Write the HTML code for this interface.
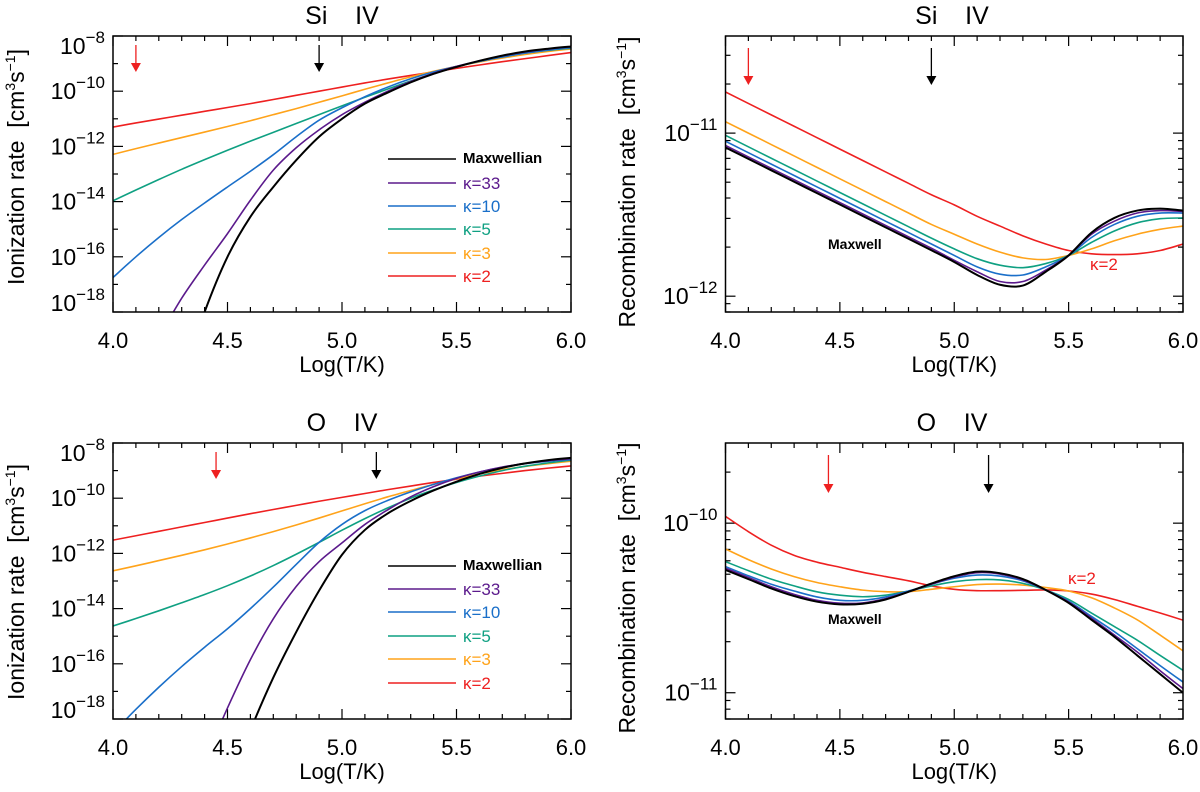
<!DOCTYPE html>
<html><head><meta charset="utf-8"><style>
html,body{margin:0;padding:0;background:#fff;overflow:hidden;width:1200px;height:792px;}
svg{display:block;font-family:"Liberation Sans",sans-serif;}
text{white-space:pre;}
</style></head><body>
<svg id="fig" width="1200" height="792" viewBox="0 0 1200 792"></svg>
<script>
const temps=[4.0,4.1,4.2,4.3,4.4,4.5,4.6,4.7,4.8,4.9,5.0,5.1,5.2,5.3,5.4,5.5,5.6,5.7,5.8,5.9,6.0];
const seriesNames=["Maxwellian","κ=33","κ=10","κ=5","κ=3","κ=2"];
// Si IV ionization (log10 rate)
const siIonMax=[-29,-26.3,-23.3,-20.5,-18,-16.0,-14.55,-13.47,-12.5,-11.65,-11.0,-10.45,-10.05,-9.68,-9.37,-9.12,-8.9,-8.71,-8.56,-8.46,-8.38];
const siIonK33=[-21.5,-20.2,-18.9,-17.5,-16.3,-15.16,-13.95,-12.86,-12.05,-11.4,-10.85,-10.4,-10.0,-9.65,-9.35,-9.1,-8.9,-8.72,-8.58,-8.47,-8.39];
const siIonK10=[-16.75,-16.0,-15.3,-14.65,-14.05,-13.47,-12.9,-12.3,-11.65,-11.05,-10.6,-10.2,-9.85,-9.55,-9.3,-9.1,-8.92,-8.76,-8.62,-8.51,-8.42];
const siIonK5=[-13.97,-13.58,-13.2,-12.83,-12.48,-12.14,-11.81,-11.49,-11.17,-10.85,-10.53,-10.22,-9.92,-9.63,-9.36,-9.12,-8.92,-8.76,-8.62,-8.52,-8.44];
const siIonK3=[-12.29,-12.08,-11.88,-11.68,-11.48,-11.28,-11.07,-10.85,-10.63,-10.4,-10.17,-9.93,-9.7,-9.48,-9.28,-9.1,-8.94,-8.8,-8.67,-8.56,-8.47];
const siIonK2=[-11.3,-11.15,-11.01,-10.87,-10.73,-10.59,-10.45,-10.3,-10.15,-10.0,-9.85,-9.7,-9.56,-9.43,-9.3,-9.17,-9.05,-8.93,-8.82,-8.71,-8.6];
// O IV ionization
const oIonMax=[-33,-30,-27.5,-25,-22.8,-20.5,-18.4,-16.5,-14.85,-13.35,-12.05,-11.15,-10.55,-10.1,-9.72,-9.4,-9.12,-8.9,-8.74,-8.62,-8.54];
const oIonK33=[-27,-25,-23,-21.2,-19.5,-17.6,-15.85,-14.37,-13.2,-12.3,-11.62,-10.95,-10.42,-9.95,-9.58,-9.28,-9.05,-8.87,-8.74,-8.64,-8.57];
const oIonK10=[-18.5,-17.65,-16.85,-16.1,-15.4,-14.73,-14.0,-13.22,-12.4,-11.6,-10.95,-10.45,-10.08,-9.77,-9.5,-9.26,-9.05,-8.88,-8.75,-8.66,-8.6];
const oIonK5=[-14.63,-14.36,-14.08,-13.79,-13.49,-13.17,-12.82,-12.44,-12.03,-11.6,-11.16,-10.74,-10.35,-10.0,-9.7,-9.43,-9.2,-9.0,-8.84,-8.72,-8.62];
const oIonK3=[-12.63,-12.45,-12.26,-12.07,-11.87,-11.66,-11.44,-11.21,-10.97,-10.72,-10.46,-10.2,-9.95,-9.72,-9.5,-9.3,-9.12,-8.97,-8.85,-8.75,-8.66];
const oIonK2=[-11.52,-11.36,-11.2,-11.04,-10.88,-10.72,-10.56,-10.41,-10.26,-10.11,-9.97,-9.83,-9.69,-9.56,-9.43,-9.31,-9.2,-9.1,-9.0,-8.91,-8.83];
// Si IV recombination
const siRecMax=[-11.088,-11.158,-11.228,-11.298,-11.368,-11.438,-11.508,-11.578,-11.648,-11.718,-11.79,-11.87,-11.93,-11.935,-11.85,-11.75,-11.61,-11.52,-11.475,-11.463,-11.475];
const siRecK33=[-11.076,-11.146,-11.216,-11.286,-11.356,-11.426,-11.496,-11.566,-11.636,-11.706,-11.78,-11.85,-11.91,-11.91,-11.84,-11.75,-11.62,-11.54,-11.49,-11.475,-11.48];
const siRecK10=[-11.05,-11.12,-11.19,-11.26,-11.33,-11.4,-11.47,-11.54,-11.61,-11.68,-11.75,-11.82,-11.865,-11.87,-11.82,-11.75,-11.64,-11.56,-11.51,-11.49,-11.49];
const siRecK5=[-11.014,-11.084,-11.154,-11.224,-11.294,-11.364,-11.434,-11.504,-11.574,-11.644,-11.71,-11.77,-11.81,-11.825,-11.8,-11.75,-11.67,-11.6,-11.55,-11.525,-11.52];
const siRecK3=[-10.93,-11.0,-11.07,-11.14,-11.21,-11.28,-11.35,-11.42,-11.49,-11.56,-11.62,-11.68,-11.73,-11.765,-11.775,-11.75,-11.71,-11.66,-11.62,-11.59,-11.57];
const siRecK2=[-10.748,-10.818,-10.888,-10.958,-11.028,-11.098,-11.168,-11.238,-11.308,-11.378,-11.44,-11.51,-11.57,-11.63,-11.68,-11.72,-11.74,-11.745,-11.74,-11.72,-11.68];
// O IV recombination
const oRecMax=[-10.276,-10.33,-10.385,-10.43,-10.463,-10.479,-10.475,-10.45,-10.405,-10.356,-10.313,-10.286,-10.295,-10.33,-10.394,-10.47,-10.57,-10.67,-10.78,-10.89,-11.0];
const oRecK33=[-10.266,-10.32,-10.375,-10.42,-10.455,-10.472,-10.47,-10.445,-10.405,-10.36,-10.318,-10.292,-10.3,-10.335,-10.394,-10.465,-10.56,-10.66,-10.76,-10.87,-10.976];
const oRecK10=[-10.256,-10.31,-10.36,-10.4,-10.435,-10.455,-10.455,-10.435,-10.4,-10.36,-10.325,-10.306,-10.312,-10.34,-10.394,-10.46,-10.55,-10.64,-10.74,-10.84,-10.937];
const oRecK5=[-10.227,-10.28,-10.33,-10.37,-10.405,-10.425,-10.434,-10.425,-10.4,-10.37,-10.345,-10.333,-10.335,-10.355,-10.394,-10.45,-10.53,-10.61,-10.69,-10.78,-10.868];
const oRecK3=[-10.152,-10.215,-10.27,-10.315,-10.35,-10.375,-10.395,-10.404,-10.404,-10.39,-10.375,-10.362,-10.359,-10.365,-10.38,-10.4,-10.44,-10.5,-10.57,-10.66,-10.753];
const oRecK2=[-9.96,-10.05,-10.13,-10.19,-10.23,-10.26,-10.29,-10.315,-10.34,-10.37,-10.39,-10.398,-10.398,-10.396,-10.394,-10.4,-10.418,-10.45,-10.49,-10.53,-10.572];
const xTicks=[4.0,4.5,5.0,5.5,6.0];
const ionYTicks=[-18,-16,-14,-12,-10,-8];
const recSiYTicks=[-12,-11];
const recOYTicks=[-11,-10];
const arrowsSi=[4.1,4.9];
const arrowsO=[4.45,5.15];

const colors=["#000000","#5b1a8c","#1a6fc9","#0fa082","#ffa31a","#ee2020"];
const NS="http://www.w3.org/2000/svg";
const svg=document.getElementById('fig');
function mk(tag,attrs,parent){const e=document.createElementNS(NS,tag);for(const k in attrs)e.setAttribute(k,attrs[k]);(parent||svg).appendChild(e);return e;}
function smoothPath(pts){
  let d='M'+pts[0][0].toFixed(2)+','+pts[0][1].toFixed(2);
  for(let i=0;i<pts.length-1;i++){
    const p0=pts[Math.max(0,i-1)],p1=pts[i],p2=pts[i+1],p3=pts[Math.min(pts.length-1,i+2)];
    const c1x=p1[0]+(p2[0]-p0[0])/6,c1y=p1[1]+(p2[1]-p0[1])/6;
    const c2x=p2[0]-(p3[0]-p1[0])/6,c2y=p2[1]-(p3[1]-p1[1])/6;
    d+=' C'+c1x.toFixed(2)+','+c1y.toFixed(2)+' '+c2x.toFixed(2)+','+c2y.toFixed(2)+' '+p2[0].toFixed(2)+','+p2[1].toFixed(2);
  }
  return d;
}

function panel(o){
  const g=mk('g',{});
  
  
  const X=v=>o.x0+(v-4)/2*(o.x1-o.x0);
  const Y=l=>o.y1-(l-o.lmin)/(o.lmax-o.lmin)*(o.y1-o.y0);
  const cid='clip-'+o.name;
  const cp=mk('clipPath',{id:cid},g);mk('rect',{x:o.x0,y:o.y0,width:o.x1-o.x0,height:o.y1-o.y0},cp);
  for(let i=0;i<=20;i++){const v=4+i*0.1;const L=(i%5==0)?10:5;const px=X(v);
    mk('line',{x1:px,x2:px,y1:o.y1,y2:o.y1-L,stroke:'#000','stroke-width':1.2},g);
    mk('line',{x1:px,x2:px,y1:o.y0,y2:o.y0+L,stroke:'#000','stroke-width':1.2},g);}
  if(o.minor){
    for(let d=Math.floor(o.lmin);d<=Math.ceil(o.lmax);d++){for(let m=1;m<10;m++){const l=d+Math.log10(m);if(l<o.lmin||l>o.lmax)continue;const L=m==1?10:5;const py=Y(l);
      mk('line',{x1:o.x0,x2:o.x0+L,y1:py,y2:py,stroke:'#000','stroke-width':1.2},g);
      mk('line',{x1:o.x1,x2:o.x1-L,y1:py,y2:py,stroke:'#000','stroke-width':1.2},g);}}
  } else {
    for(let d=o.lmin;d<=o.lmax;d++){const L=(d%2==0)?10:5;const py=Y(d);
      mk('line',{x1:o.x0,x2:o.x0+L,y1:py,y2:py,stroke:'#000','stroke-width':1.2},g);
      mk('line',{x1:o.x1,x2:o.x1-L,y1:py,y2:py,stroke:'#000','stroke-width':1.2},g);}
  }
  const cg=mk('g',{'clip-path':'url(#'+cid+')'},g);
  for(let i=o.series.length-1;i>=0;i--){
    const s=o.series[i];
    const pts=s.map((l,j)=>[X(temps[j]),Y(l)]);
    const p=mk('path',{d:smoothPath(pts),fill:'none',stroke:colors[i],'stroke-width':i==0?2:1.6,'stroke-linejoin':'round'},cg);
    
    
  }
  mk('rect',{x:o.x0,y:o.y0,width:o.x1-o.x0,height:o.y1-o.y0,fill:'none',stroke:'#000','stroke-width':1.5},g);
  xTicks.forEach(v=>{const t=mk('text',{x:X(v),y:o.y1+36,'text-anchor':'middle','font-size':22},g);t.textContent=v.toFixed(1);
    });
  const xt=mk('text',{x:(o.x0+o.x1)/2,y:o.y1+60,'text-anchor':'middle','font-size':22},g);xt.textContent='Log(T/K)';
  
  o.yTicks.forEach(l=>{let cy=Y(l);cy=Math.min(Math.max(cy,o.y0+10),o.y1-9);
    const t=mk('text',{x:o.x0-8,y:cy+8,'text-anchor':'end','font-size':23},g);
    
    const a=mk('tspan',{},t);a.textContent='10';const b=mk('tspan',{dy:-11,'font-size':17},t);b.textContent='−'+(-l);});
  const tt=mk('text',{x:o.titleX,y:o.y0-12,'text-anchor':'middle','font-size':25},g);tt.textContent=o.title;
  
  const yt=mk('text',{transform:'translate('+o.ytX+','+o.ytY+') rotate(-90)','text-anchor':'middle','font-size':23},g);
  
  const y1=mk('tspan',{},yt);y1.textContent=o.ytitle+'  [cm';
  const y2=mk('tspan',{dy:-9,'font-size':14},yt);y2.textContent='3';
  const y3=mk('tspan',{dy:9},yt);y3.textContent='s';
  const y4=mk('tspan',{dy:-9,'font-size':14},yt);y4.textContent='−1';
  const y5=mk('tspan',{dy:9},yt);y5.textContent=']';
  o.arrows.forEach((v,i)=>{const c=i==0?'#ee2020':'#000';const px=X(v);
    const ag=mk('g',{},g);
    mk('line',{x1:px,x2:px,y1:o.aTop,y2:o.aBot-6,stroke:c,'stroke-width':1.3},ag);
    mk('polygon',{points:(px-5)+','+(o.aBot-9)+' '+(px+5)+','+(o.aBot-9)+' '+px+','+o.aBot,fill:c},ag);});
  return {g,X,Y};
}

panel({name:'si-ionization-panel',x0:113,x1:571,y0:36,y1:312,lmin:-18,lmax:-8,minor:false,yTicks:ionYTicks,
  series:[siIonMax,siIonK33,siIonK10,siIonK5,siIonK3,siIonK2],title:'Si    IV',titleX:342,ytitle:'Ionization rate',ytX:24,ytY:167,arrows:arrowsSi,aTop:45,aBot:72});
panel({name:'o-ionization-panel',x0:113,x1:571,y0:443,y1:719,lmin:-18,lmax:-8,minor:false,yTicks:ionYTicks,
  series:[oIonMax,oIonK33,oIonK10,oIonK5,oIonK3,oIonK2],title:'O    IV',titleX:342,ytitle:'Ionization rate',ytX:24,ytY:582,arrows:arrowsO,aTop:452,aBot:479});
panel({name:'si-recombination-panel',x0:725.5,x1:1183,y0:36,y1:312,lmin:Math.log10(8e-13),lmax:Math.log10(3.94e-11),minor:true,yTicks:recSiYTicks,
  series:[siRecMax,siRecK33,siRecK10,siRecK5,siRecK3,siRecK2],title:'Si    IV',titleX:952,ytitle:'Recombination rate',ytX:635,ytY:182,arrows:arrowsSi,aTop:48,aBot:85});
panel({name:'o-recombination-panel',x0:725.5,x1:1183,y0:443,y1:719,lmin:Math.log10(7e-12),lmax:Math.log10(2.97e-10),minor:true,yTicks:recOYTicks,
  series:[oRecMax,oRecK33,oRecK10,oRecK5,oRecK3,oRecK2],title:'O    IV',titleX:952,ytitle:'Recombination rate',ytX:635,ytY:588,arrows:arrowsO,aTop:455,aBot:493});

function legend(rows,name){
  const lg=mk('g',{});
  rows.forEach((y,i)=>{
    const e=mk('g',{},lg);
    mk('line',{x1:388,x2:456,y1:y,y2:y,stroke:colors[i],'stroke-width':1.6},e);
    const t=mk('text',{x:463,y:y+(i==0?4:6),'font-size':i==0?15:17,fill:colors[i],'font-weight':i==0?'bold':'normal'},e);
    t.textContent=seriesNames[i];
  });
}
legend([159,183,206,229,253,276],'legend-si');
legend([566,589,612,636,659,683],'legend-o');
function note(x,y,txt,c,sz,bold,name){const t=mk('text',{x:x,y:y,'font-size':sz,fill:c,'font-weight':bold?'bold':'normal'});t.textContent=txt;
  }
note(828,249,'Maxwell','#000',14,true,'maxwell-annotation');
note(1090,270,'κ=2','#ee2020',17,false,'kappa2-annotation');
note(828,624,'Maxwell','#000',14,true,'maxwell-annotation');
note(1068,584,'κ=2','#ee2020',17,false,'kappa2-annotation');
</script>
</body></html>
